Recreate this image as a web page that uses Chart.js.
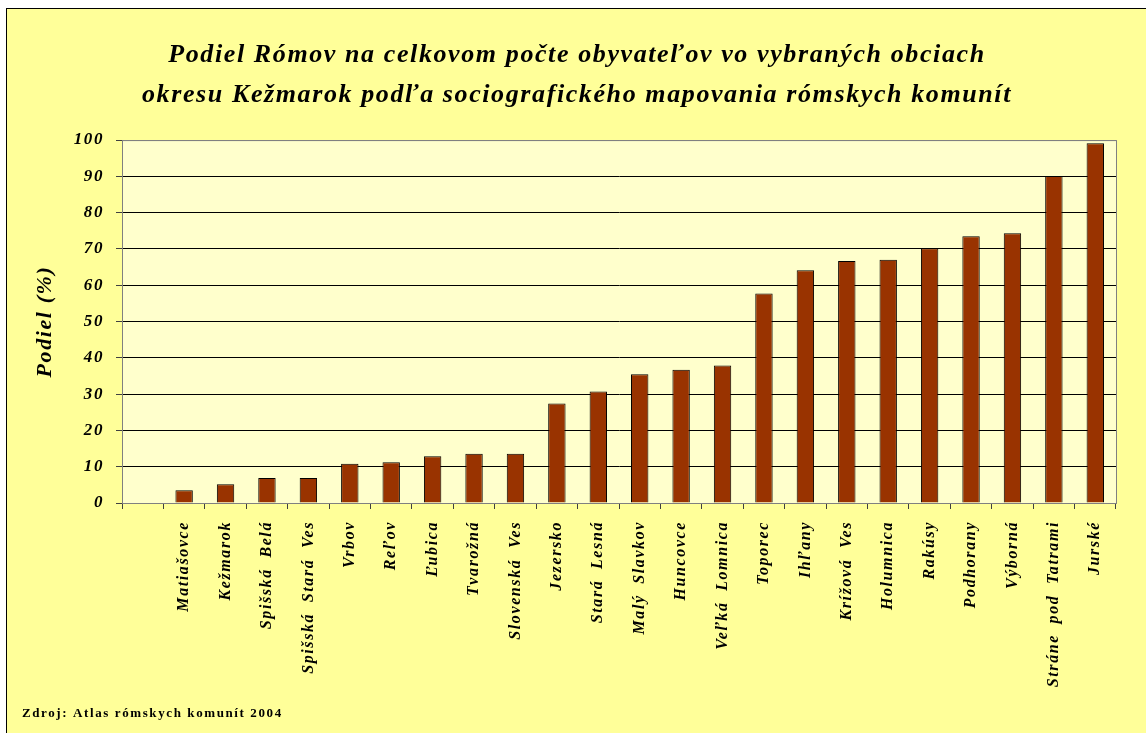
<!DOCTYPE html>
<html>
<head>
<meta charset="utf-8">
<script src="https://cdn.jsdelivr.net/npm/chart.js@4.4.0/dist/chart.umd.min.js"></script>
<style>
  html, body { margin: 0; padding: 0; background: #ffffff; }
  #wrap { width: 1146px; height: 733px; position: relative; }
</style>
</head>
<body>
<div id="wrap"><canvas id="graf"></canvas></div>
<script>
// obce (prvy stlpec je prazdny, tak ako v povodnom grafe)
var obce = ["", "Matiašovce", "Kežmarok", "Spišská Belá", "Spišská Stará Ves", "Vrbov", "Reľov",
  "Ľubica", "Tvarožná", "Slovenská Ves", "Jezersko", "Stará Lesná", "Malý Slavkov", "Huncovce",
  "Veľká Lomnica", "Toporec", "Ihľany", "Krížová Ves", "Holumnica", "Rakúsy", "Podhorany",
  "Výborná", "Stráne pod Tatrami", "Jurské"];
var podiel = [null, 3.5, 5.2, 6.9, 6.9, 10.8, 11.2, 12.9, 13.6, 13.6, 27.4, 30.7, 35.5, 36.7,
  37.9, 57.7, 64.1, 66.7, 67.0, 70.2, 73.5, 74.3, 90.1, 99.1];
var yTicks = [0, 10, 20, 30, 40, 50, 60, 70, 80, 90, 100];

var titulok = ["Podiel Rómov na celkovom počte obyvateľov vo vybraných obciach",
  "okresu Kežmarok podľa sociografického mapovania rómskych komunít"];
var zdroj = "Zdroj: Atlas rómskych komunít 2004";

var serif = "'Liberation Serif', 'Times New Roman', serif";

// pozadie, ramik a plocha grafu
var pozadie = {
  id: "pozadie",
  beforeDraw: function(chart) {
    var c = chart.ctx, a = chart.chartArea;
    // texty v povodnom grafe su trochu roztiahnute
    c.letterSpacing = "1.6px";
    c.save();
    c.fillStyle = "#ffff99";
    c.fillRect(6, 8, chart.width, chart.height);
    c.strokeStyle = "#000000";
    c.lineWidth = 1;
    c.strokeRect(6.5, 8.5, chart.width + 10, chart.height + 10);
    c.fillStyle = "#ffffcc";
    c.fillRect(a.left, a.top, a.right - a.left, a.bottom - a.top);
    c.restore();
  },
  afterDatasetsDraw: function(chart) {
    var c = chart.ctx, a = chart.chartArea;
    c.save();
    c.strokeStyle = "#808080";
    c.lineWidth = 1;
    c.strokeRect(a.left + 0.5, a.top + 0.5, a.right - a.left, a.bottom - a.top);
    c.fillStyle = "#000000";
    c.font = "bold 13px " + serif;
    c.textBaseline = "middle";
    c.fillText(zdroj, 22, 714);
    c.restore();
  }
};

var graf = new Chart(document.getElementById("graf"), {
  type: "bar",
  data: {
    labels: obce,
    datasets: [{
      label: "Podiel (%)",
      data: podiel,
      backgroundColor: "#993300",
      borderColor: "#000000",
      borderWidth: 1,
      barPercentage: 0.42,
      categoryPercentage: 1
    }]
  },
  options: {
    responsive: true,
    maintainAspectRatio: false,
    animation: false,
    layout: { padding: { left: 38, right: 30, top: 8, bottom: 10 } },
    plugins: {
      legend: { display: false },
      tooltip: { enabled: false },
      title: {
        display: true,
        text: titulok,
        color: "#000000",
        font: { family: serif, size: 26, weight: "bold", style: "italic", lineHeight: 1.54 },
        padding: { top: 27, bottom: 25 }
      }
    },
    scales: {
      x: {
        offset: true,
        grid: { display: true, drawOnChartArea: false, drawTicks: true, tickLength: 6, color: "#404040", offset: true },
        border: { display: true, color: "#808080" },
        ticks: {
          autoSkip: false,
          minRotation: 90,
          maxRotation: 90,
          padding: 12,
          color: "#000000",
          font: { family: serif, size: 16, weight: "bold", style: "italic" }
        },
        afterFit: function(s) { s.height = 220; }
      },
      y: {
        min: 0,
        max: 100,
        afterBuildTicks: function(s) { s.ticks = yTicks.map(function(v) { return { value: v }; }); },
        grid: {
          color: function(ctx) { return (ctx.tick && (ctx.tick.value === 0 || ctx.tick.value === 100)) ? "#808080" : "#000000"; },
          tickColor: "#404040",
          tickLength: 6
        },
        border: { display: true, color: "#808080" },
        ticks: {
          padding: 12,
          color: "#000000",
          font: { family: serif, size: 17, weight: "bold", style: "italic" }
        },
        title: {
          display: true,
          text: "Podiel (%)",
          color: "#000000",
          font: { family: serif, size: 22, weight: "bold", style: "italic" },
          padding: { top: -6, bottom: 0 }
        },
        afterFit: function(s) { s.width = 84; }
      }
    }
  },
  plugins: [pozadie]
});

// nazvy obci maju v povodnom grafe sirsie medzery medzi slovami
var osX = graf.scales.x;
var kresliPopisy = osX.drawLabels;
osX.drawLabels = function(area) {
  this.ctx.wordSpacing = "5px";
  kresliPopisy.call(this, area);
  this.ctx.wordSpacing = "0px";
};
graf.draw();
</script>
</body>
</html>
